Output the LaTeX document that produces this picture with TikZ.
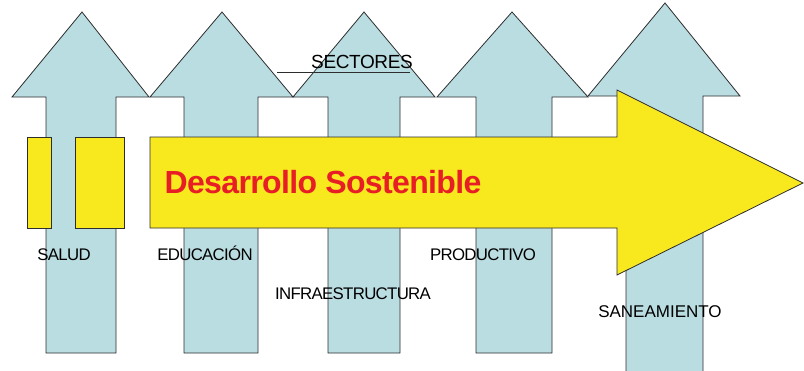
\documentclass[tikz,border=0pt]{standalone}
\usepackage{fontspec}
\setmainfont{Liberation Sans}
\newfontfamily\tightfont[LetterSpace=-4]{Liberation Sans}
\newfontfamily\titlefont[LetterSpace=-2]{Liberation Sans}
\definecolor{skyblue}{RGB}{186,221,226}
\definecolor{sunyellow}{RGB}{248,232,30}
\definecolor{titlered}{RGB}{232,30,38}
\definecolor{linegray}{RGB}{45,45,45}
\tikzset{
  sector/.style={draw=linegray, fill=skyblue, line width=0.8pt, line join=miter},
  yellowbox/.style={draw=linegray, fill=sunyellow, line width=0.8pt, line join=miter},
  label/.style={anchor=base, inner sep=0pt, font=\tightfont\fontsize{16.8}{18}\selectfont}
}
\begin{document}
\begin{tikzpicture}[x=1pt, y=-1pt]
                \useasboundingbox (0,0) rectangle (804,370);

                % sector arrows: head left, shaft left, shaft right, head right, tip x, tip y, base y, bottom
                \foreach \hl/\sl/\sr/\hr/\tx/\ty/\by/\bot in {
                    12/46/116/149/82/12/97/353,
                    150/184/258/293/222/12/97/353,
                    293/328/400/435/364/12/97/353,
                    437/476/552/588/512/12/97/353,
                    588/626/703/740/665/3/96/375}
                    \draw[sector] (\sl,\bot) -- (\sl,\by) -- (\hl,\by) -- (\tx,\ty)
                        -- (\hr,\by) -- (\sr,\by) -- (\sr,\bot) -- cycle;

                \draw[line width=0.8pt, draw=linegray] (277,72) -- (410,72);
                \node[label, font=\titlefont\fontsize{19}{21}\selectfont] (sectores) at (362,68) {SECTORES};

                % development arrow
                \draw[yellowbox] (27,137) rectangle (51,228);
                \draw[yellowbox] (75,137) rectangle (124,228);
                \draw[yellowbox] (150,137) -- (617,137) -- (617,90) -- (803,183)
                    -- (617,275) -- (617,228) -- (150,228) -- cycle;

                \node[anchor=base, inner sep=0pt, text=titlered,
                      font=\titlefont\bfseries\fontsize{32}{36}\selectfont] (desarrollo) at (323,193) {Desarrollo Sostenible};

                \node[label] (salud) at (64,260) {SALUD};
                \node[label] (educacion) at (205,260) {EDUCACIÓN};
                \node[label] (infra) at (353,299) {INFRAESTRUCTURA};
                \node[label] (productivo) at (483,260) {PRODUCTIVO};
                \node[label, font=\fontsize{17}{19}\selectfont] (saneamiento) at (660,317) {SANEAMIENTO};
            \end{tikzpicture}
\end{document}
